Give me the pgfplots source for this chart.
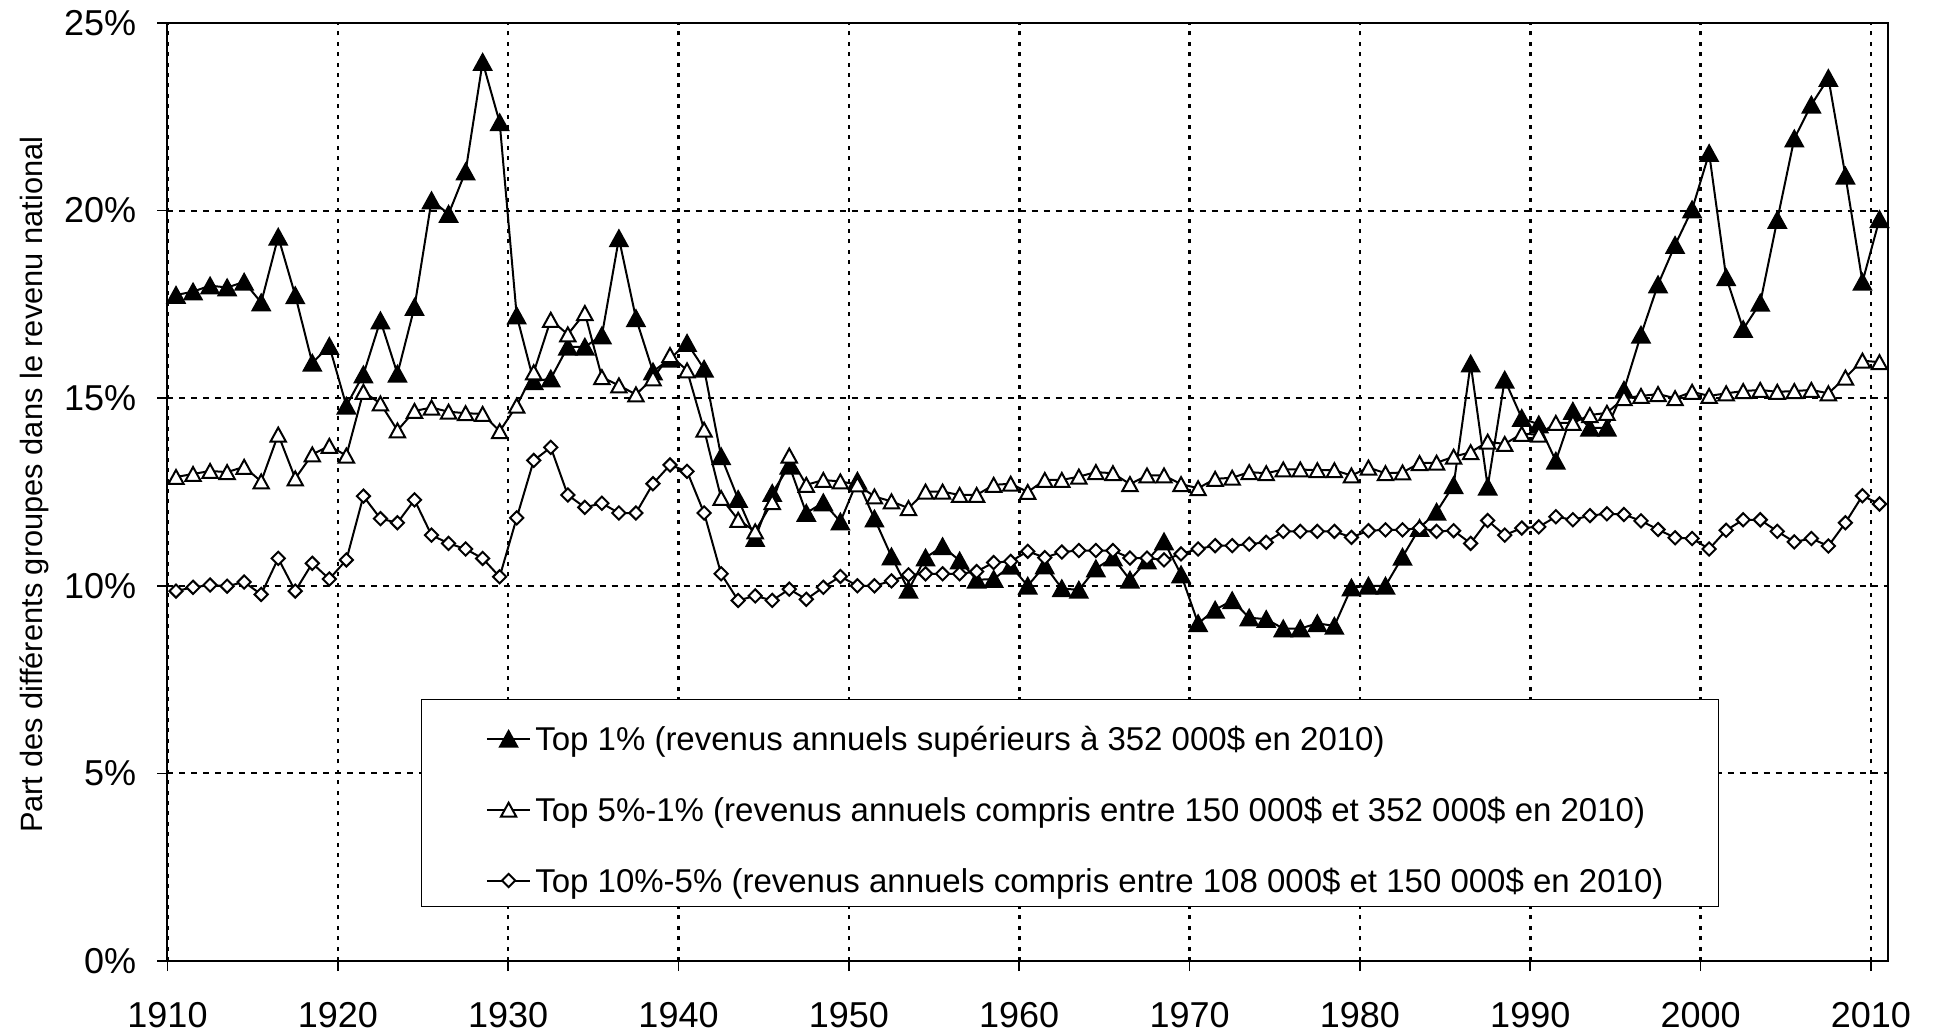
\documentclass[border=0pt]{standalone}
\usepackage{fontspec}
\setmainfont{Liberation Sans}
\usepackage{pgfplots}
\usepackage{pgfplotstable}
\pgfplotsset{compat=1.18}

\pgfdeclareplotmark{xltri}{%
  \pgfpathmoveto{\pgfqpoint{0pt}{\pgfplotmarksize}}%
  \pgfpathlineto{\pgfqpoint{-1.1\pgfplotmarksize}{-\pgfplotmarksize}}%
  \pgfpathlineto{\pgfqpoint{1.1\pgfplotmarksize}{-\pgfplotmarksize}}%
  \pgfpathclose
  \pgfusepathqfillstroke}
\pgfdeclareplotmark{xldiam}{%
  \pgfpathmoveto{\pgfqpoint{0pt}{\pgfplotmarksize}}%
  \pgfpathlineto{\pgfqpoint{\pgfplotmarksize}{0pt}}%
  \pgfpathlineto{\pgfqpoint{0pt}{-\pgfplotmarksize}}%
  \pgfpathlineto{\pgfqpoint{-\pgfplotmarksize}{0pt}}%
  \pgfpathclose
  \pgfusepathqfillstroke}

\pgfplotstableread{
year T1 T5 T10
1910 17.75 12.90 9.86
1911 17.84 12.98 9.96
1912 18.00 13.06 10.02
1913 17.95 13.03 9.99
1914 18.10 13.17 10.10
1915 17.55 12.78 9.77
1916 19.30 14.03 10.73
1917 17.74 12.86 9.86
1918 15.94 13.50 10.60
1919 16.39 13.73 10.18
1920 14.80 13.47 10.69
1921 15.63 15.17 12.39
1922 17.07 14.86 11.79
1923 15.65 14.14 11.68
1924 17.43 14.66 12.29
1925 20.27 14.75 11.35
1926 19.91 14.64 11.13
1927 21.04 14.60 10.98
1928 23.96 14.58 10.73
1929 22.35 14.12 10.24
1930 17.20 14.80 11.81
1931 15.45 15.69 13.34
1932 15.52 17.09 13.69
1933 16.37 16.70 12.42
1934 16.37 17.27 12.09
1935 16.67 15.56 12.20
1936 19.26 15.34 11.94
1937 17.13 15.10 11.94
1938 15.71 15.53 12.72
1939 16.05 16.15 13.22
1940 16.47 15.74 13.05
1941 15.78 14.16 11.94
1942 13.45 12.34 10.32
1943 12.31 11.76 9.61
1944 11.27 11.45 9.73
1945 12.47 12.23 9.61
1946 13.20 13.47 9.91
1947 11.94 12.69 9.64
1948 12.22 12.82 9.96
1949 11.71 12.78 10.25
1950 12.80 12.70 10.00
1951 11.79 12.38 10.00
1952 10.78 12.25 10.13
1953 9.89 12.07 10.29
1954 10.75 12.51 10.32
1955 11.05 12.51 10.32
1956 10.67 12.42 10.32
1957 10.16 12.42 10.38
1958 10.18 12.69 10.62
1959 10.53 12.72 10.65
1960 10.00 12.50 10.92
1961 10.54 12.82 10.75
1962 9.93 12.82 10.90
1963 9.89 12.91 10.94
1964 10.46 13.03 10.94
1965 10.75 13.00 10.94
1966 10.16 12.71 10.74
1967 10.67 12.94 10.74
1968 11.18 12.94 10.69
1969 10.30 12.71 10.85
1970 9.00 12.60 10.98
1971 9.36 12.85 11.07
1972 9.61 12.88 11.07
1973 9.15 13.03 11.11
1974 9.11 13.00 11.16
1975 8.86 13.10 11.45
1976 8.86 13.10 11.45
1977 9.00 13.08 11.45
1978 8.93 13.08 11.45
1979 9.95 12.94 11.29
1980 10.00 13.15 11.47
1981 10.00 13.00 11.49
1982 10.77 13.02 11.49
1983 11.54 13.27 11.54
1984 11.97 13.28 11.45
1985 12.68 13.44 11.47
1986 15.92 13.56 11.13
1987 12.64 13.84 11.74
1988 15.49 13.78 11.35
1989 14.47 14.05 11.54
1990 14.30 14.03 11.57
1991 13.33 14.34 11.84
1992 14.66 14.34 11.76
1993 14.21 14.55 11.87
1994 14.21 14.61 11.92
1995 15.22 15.00 11.90
1996 16.69 15.06 11.73
1997 18.03 15.11 11.50
1998 19.08 15.00 11.28
1999 20.03 15.17 11.26
2000 21.53 15.06 10.98
2001 18.22 15.13 11.48
2002 16.84 15.19 11.76
2003 17.54 15.22 11.76
2004 19.75 15.17 11.45
2005 21.92 15.19 11.17
2006 22.82 15.22 11.26
2007 23.53 15.13 11.06
2008 20.93 15.55 11.68
2009 18.10 16.00 12.40
2010 19.77 15.96 12.18
}\datatable

\begin{document}
\begin{tikzpicture}
\begin{axis}[
  scale only axis,
  width=860.25pt, height=469pt,
  xmin=1910, xmax=2011, ymin=0, ymax=25,
  xtick={1910,1920,...,2010},
  ytick={0,5,...,25},
  xtick pos=left, ytick pos=left,
  tick align=outside,
  major tick length=5pt,
  tick style={black, line width=0.8pt},
  axis line style={black, line width=1pt},
  grid=major,
  major x grid style={black, line width=1.3pt, dash pattern=on 2pt off 3.2pt},
  major y grid style={black, line width=1pt, dash pattern=on 3pt off 3pt},
  /pgf/number format/assume math mode=true,
  /pgf/number format/1000 sep={},
  ticklabel style={font=\fontsize{18}{21}\selectfont, inner sep=0pt},
  xticklabel style={anchor=north, yshift=-15.4pt},
  yticklabel style={anchor=east, xshift=-10.5pt},
  yticklabel={\pgfmathprintnumber{\tick}\%},
  ylabel={Part des différents groupes dans le revenu national},
  ylabel style={font=\fontsize{15.4}{18}\selectfont, at={(axis description cs:-0.0776,0.5077)}, anchor=center},
  legend style={at={(axis description cs:0.1473,0.2796)}, anchor=north west,
    draw=black, line width=0.6pt, fill=white,
    inner xsep=27.3pt, inner ysep=3pt, row sep=8.6pt, column sep=2pt,
    font=\fontsize{16.5}{19}\selectfont,
    nodes={inner sep=0pt, text height=22.6pt, text depth=4.2pt},
    cells={anchor=base west}},
  legend cell align=left,
  legend image code/.code={\path (0pt,-3.4pt);\draw[mark repeat=2,mark phase=2] plot coordinates {(4.9pt,-3.4pt) (15.75pt,-3.4pt) (26.6pt,-3.4pt)};},
]
\addplot[black, line width=1pt, mark=xltri, mark size=3.9pt, mark options={solid, fill=black, line width=1pt}]
  table[x expr=\thisrow{year}+0.5, y=T1] {\datatable};
\addlegendentry{Top 1\% (revenus annuels supérieurs à 352 000\$ en 2010)}
\addplot[black, line width=1pt, mark=xltri, mark size=3.5pt, mark options={solid, fill=white, line width=1pt}]
  table[x expr=\thisrow{year}+0.5, y=T5] {\datatable};
\addlegendentry{Top 5\%-1\% (revenus annuels compris entre 150 000\$ et 352 000\$ en 2010)}
\addplot[black, line width=1pt, mark=xldiam, mark size=3.3pt, mark options={solid, fill=white, line width=1pt}]
  table[x expr=\thisrow{year}+0.5, y=T10] {\datatable};
\addlegendentry{Top 10\%-5\% (revenus annuels compris entre 108 000\$ et 150 000\$ en 2010)}
\end{axis}
\pgfresetboundingbox
\useasboundingbox ([xshift=-83.75pt,yshift=-36pt]current axis.south west) rectangle ++(972.5pt,516.5pt);
\end{tikzpicture}
\end{document}
